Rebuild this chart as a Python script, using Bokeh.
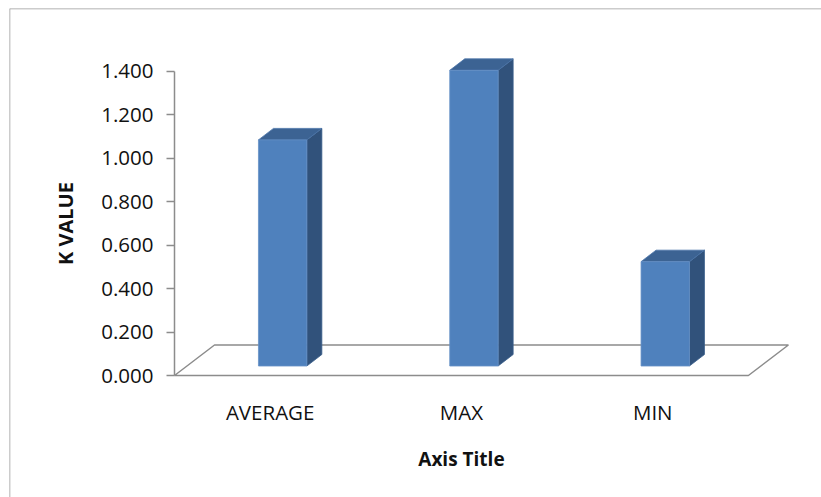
from bokeh.plotting import figure
from bokeh.models import (LinearAxis, FixedTicker, NumeralTickFormatter, Range1d,
                          Span, Label, ColumnDataSource)
from bokeh.embed import file_html
from bokeh.resources import INLINE

# ---- data ----
categories = ["AVERAGE", "MAX", "MIN"]
k_values = [1.04, 1.36, 0.48]
y_ticks = [0.0, 0.2, 0.4, 0.6, 0.8, 1.0, 1.2, 1.4]

# ---- layout (pixels) ----
W, H = 821, 497
LEFT, TOP = 9, 8                 # frame origin = chart border
FRAME_W, FRAME_H = W - LEFT, H - TOP
CAT_PX = 191.3                   # pixels per category slot
VAL_PX = 217.4                   # pixels per 1.0 of K value
AXIS_PX_X = 174                  # value axis position
ZERO_PX_Y = 375                  # floor front edge

x_start = -0.5 - (AXIS_PX_X - LEFT) / CAT_PX
x_end = x_start + FRAME_W / CAT_PX
y_end = (ZERO_PX_Y - TOP) / VAL_PX
y_start = y_end - FRAME_H / VAL_PX

def px_x(px):
    return px / CAT_PX

def px_y(px):
    return px / VAL_PX

# 3D depth offsets
FLOOR_DX, FLOOR_DY = px_x(40), px_y(30.5)
BAR_OX, BAR_OY = px_x(12.5), px_y(9.5)
BAR_W = px_x(48.4)
BAR_DX, BAR_DY = px_x(15), px_y(11.5)

FONT = "Open Sans"
GRID_GRAY = "#8c8c8c"
TEXT = "#111111"

p = figure(width=W, height=H, output_backend="svg", toolbar_location=None,
           x_range=Range1d(x_start, x_end), y_range=Range1d(y_start, y_end),
           x_axis_location=None, y_axis_location=None,
           min_border_left=LEFT, min_border_top=TOP,
           min_border_right=0, min_border_bottom=0)
p.grid.visible = False
p.outline_line_color = None
p.background_fill_color = "white"
p.border_fill_color = "white"

# chart border (top and left edges)
p.add_layout(Span(location=x_start, dimension="height",
                  line_color="#999999", line_width=1.5))
p.add_layout(Span(location=y_end, dimension="width",
                  line_color="#999999", line_width=1.5))

# floor
n = len(categories)
fx0, fx1 = -0.5, n - 0.5
p.patch([fx0, fx1, fx1 + FLOOR_DX, fx0 + FLOOR_DX],
        [0, 0, FLOOR_DY, FLOOR_DY],
        fill_color="white", line_color=GRID_GRAY, line_width=1.5)

# bars: front, side and top faces
idx = list(range(n))
left = [i - BAR_W / 2 + BAR_OX for i in idx]
right = [i + BAR_W / 2 + BAR_OX for i in idx]
bottom = [BAR_OY] * n
top = [BAR_OY + v for v in k_values]

side_xs = [[r, r + BAR_DX, r + BAR_DX, r] for r in right]
side_ys = [[b, b + BAR_DY, t + BAR_DY, t] for b, t in zip(bottom, top)]
top_xs = [[l, r, r + BAR_DX, l + BAR_DX] for l, r in zip(left, right)]
top_ys = [[t, t, t + BAR_DY, t + BAR_DY] for t in top]

p.patches(side_xs, side_ys, fill_color="#31527b", line_color="#3a5f8c", line_width=0.8)
p.patches(top_xs, top_ys, fill_color="#3c6393", line_color="#4a74a8", line_width=0.8)
p.quad(source=ColumnDataSource(dict(left=left, right=right, bottom=bottom, top=top)),
       left="left", right="right", bottom="bottom", top="top",
       fill_color="#4f81bd", line_color="#6691c6", line_width=0.8)

# value axis
yax = LinearAxis(fixed_location=fx0, ticker=FixedTicker(ticks=y_ticks),
                 formatter=NumeralTickFormatter(format="0.000"),
                 bounds=(y_ticks[0], y_ticks[-1]))
yax.axis_line_color = GRID_GRAY
yax.axis_line_width = 1.5
yax.major_tick_line_color = GRID_GRAY
yax.major_tick_line_width = 1.5
yax.major_tick_out = 8
yax.major_tick_in = 0
yax.minor_tick_line_color = None
yax.major_label_text_font = FONT
yax.major_label_text_font_size = "20.5px"
yax.major_label_text_color = TEXT
yax.major_label_standoff = 13
yax.axis_label = "K VALUE"
yax.axis_label_text_font = FONT
yax.axis_label_text_font_style = "bold"
yax.axis_label_text_font_size = "20px"
yax.axis_label_text_color = TEXT
yax.axis_label_standoff = 19
p.add_layout(yax, "left")

# category axis
xax = LinearAxis(fixed_location=0, ticker=FixedTicker(ticks=idx),
                 major_label_overrides={i: c for i, c in enumerate(categories)})
xax.axis_line_color = None
xax.major_tick_line_color = None
xax.minor_tick_line_color = None
xax.major_tick_out = 0
xax.major_tick_in = 0
xax.major_label_text_font = FONT
xax.major_label_text_font_size = "20.5px"
xax.major_label_text_color = TEXT
xax.major_label_standoff = 22
p.add_layout(xax, "below")

# category axis title, centred under the floor
p.add_layout(Label(x=(fx0 + fx1) / 2, y=-px_y(83), text="Axis Title",
                   text_align="center", text_baseline="middle",
                   text_font=FONT, text_font_style="bold",
                   text_font_size="19px", text_color=TEXT))

open("out.html", "w").write(file_html(p, INLINE))
